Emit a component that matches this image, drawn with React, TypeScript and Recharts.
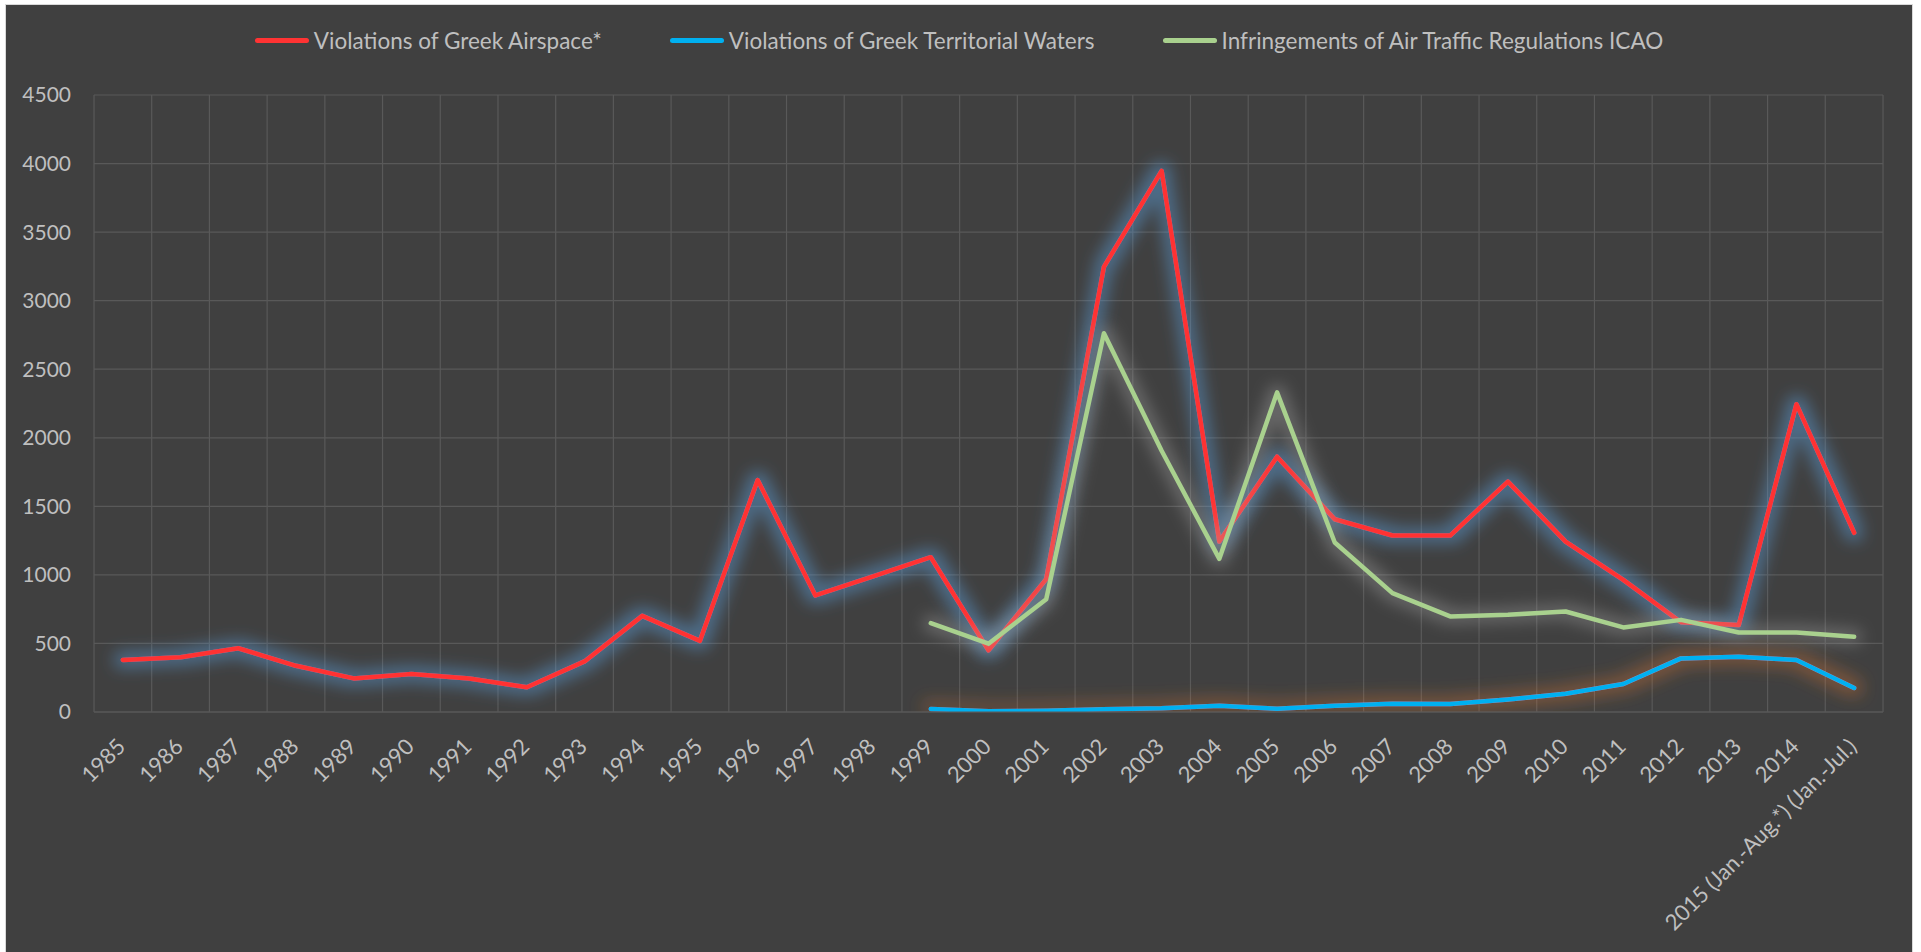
import React from "react";
import {
  CartesianGrid,
  Legend,
  Line,
  LineChart,
  XAxis,
  YAxis,
} from "recharts";

// yearly counts, 1985 – 2015 (2015 partial year)
const YEARS = [
  "1985", "1986", "1987", "1988", "1989", "1990", "1991", "1992", "1993", "1994",
  "1995", "1996", "1997", "1998", "1999", "2000", "2001", "2002", "2003", "2004",
  "2005", "2006", "2007", "2008", "2009", "2010", "2011", "2012", "2013", "2014",
  "2015 (Jan.-Aug.*) (Jan.-Jul.)",
];

const AIRSPACE = [
  380, 400, 465, 337, 245, 277, 245, 180, 369, 701,
  519, 1692, 850, 990, 1129, 449, 969, 3247, 3947, 1243,
  1862, 1406, 1287, 1287, 1680, 1243, 964, 655, 634, 2245,
  1307,
];

const WATERS = [
  null, null, null, null, null, null, null, null, null, null,
  null, null, null, null, 22, 5, 10, 20, 27, 46,
  24, 46, 61, 58, 92, 133, 204, 391, 403, 379,
  175,
];

const ICAO = [
  null, null, null, null, null, null, null, null, null, null,
  null, null, null, null, 648, 498, 823, 2762, 1905, 1117,
  2331, 1236, 867, 697, 709, 733, 617, 672, 580, 580,
  548,
];

const Y_TICKS = [0, 500, 1000, 1500, 2000, 2500, 3000, 3500, 4000, 4500];

const SERIES = [
  { key: "airspace", name: "Violations of Greek Airspace*", color: "#ff3333", glow: "glow-red" },
  { key: "waters", name: "Violations of Greek Territorial Waters", color: "#00b0f0", glow: "glow-blue" },
  { key: "icao", name: "Infringements of Air Traffic Regulations ICAO", color: "#a9d18e", glow: "glow-green" },
];

const data = YEARS.map((year, i) => ({
  year,
  airspace: AIRSPACE[i],
  waters: WATERS[i],
  icao: ICAO[i],
}));

const FONT = "Lato, 'Open Sans', sans-serif";
const TEXT = "#bfbfbf";
const GRID = "#595959";

const CHART_W = 1906;
const CHART_H = 947;
const PLOT_BOTTOM = 707;

// rotated year label, its end sits just right of the category centre
function YearTick({ x, y, payload }: any) {
  return (
    <g transform={`translate(${x + 4},${y + 36})`}>
      <text
        textAnchor="end"
        transform="rotate(-45)"
        fill={TEXT}
        fontSize={22}
        fontFamily={FONT}
      >
        {payload.value}
      </text>
    </g>
  );
}

// legend drawn in series order, not the library's sorted order
function LegendRow() {
  return (
    <div
      style={{
        display: "flex",
        justifyContent: "center",
        alignItems: "center",
        height: 30,
        gap: 68,
        fontFamily: FONT,
        fontSize: 22.5,
        color: TEXT,
      }}
    >
      {SERIES.map((s) => (
        <div key={s.key} style={{ display: "flex", alignItems: "center" }}>
          <span
            style={{
              display: "inline-block",
              width: 54,
              height: 5,
              borderRadius: 3,
              background: s.color,
              marginRight: 5,
            }}
          />
          <span>{s.name}</span>
        </div>
      ))}
    </div>
  );
}

function GlowFilter({ id, color, opacity, radius, blur, clip }: any) {
  const region = clip
    ? { filterUnits: "userSpaceOnUse", x: 0, y: 0, width: CHART_W, height: PLOT_BOTTOM }
    : { x: "-10%", y: "-20%", width: "120%", height: "140%" };
  return (
    <filter id={id} {...region}>
      <feMorphology in="SourceAlpha" operator="dilate" radius={radius} result="d" />
      <feGaussianBlur in="d" stdDeviation={blur} result="b" />
      <feFlood floodColor={color} floodOpacity={opacity} />
      <feComposite in2="b" operator="in" result="g" />
      <feMerge>
        <feMergeNode in="g" />
        <feMergeNode in="SourceGraphic" />
      </feMerge>
    </filter>
  );
}

export default function App() {
  return (
    <div
      style={{
        position: "fixed",
        left: 5,
        top: 4,
        width: 1908,
        height: 960,
        boxSizing: "border-box",
        border: "1px solid #d9d9d9",
        background: "#404040",
        overflow: "hidden",
      }}
    >
      <style>{`
        .glow-red { filter: url(#glow-red); }
        .glow-blue { filter: url(#glow-blue); }
        .glow-green { filter: url(#glow-green); }
      `}</style>
      <svg width={0} height={0} style={{ position: "absolute" }}>
        <defs>
          <GlowFilter id="glow-red" color="#5b9bd5" opacity={0.48} radius={6} blur={7.5} />
          <GlowFilter id="glow-blue" color="#ed7d31" opacity={0.32} radius={6} blur={8} clip />
          <GlowFilter id="glow-green" color="#b4b4b4" opacity={0.34} radius={5} blur={7.5} />
        </defs>
      </svg>
      <LineChart
        width={CHART_W}
        height={CHART_H}
        data={data}
        margin={{ top: 60, right: 29, bottom: 0, left: 28 }}
      >
        <CartesianGrid
          stroke={GRID}
          strokeWidth={1.2}
          verticalCoordinatesGenerator={({ offset }: any) =>
            Array.from(
              { length: YEARS.length + 1 },
              (_, i) => offset.left + (i * offset.width) / YEARS.length
            )
          }
        />
        <XAxis
          dataKey="year"
          scale="band"
          interval={0}
          height={240}
          tick={<YearTick />}
          tickSize={0}
          tickMargin={0}
          tickLine={false}
          axisLine={{ stroke: GRID, strokeWidth: 1.2 }}
        />
        <YAxis
          width={60}
          domain={[0, 4500]}
          ticks={Y_TICKS}
          interval={0}
          tickSize={6}
          tickMargin={17}
          tickLine={false}
          axisLine={false}
          tick={{ fill: TEXT, fontSize: 21, fontFamily: FONT }}
        />
        <Legend
          verticalAlign="top"
          content={<LegendRow />}
          wrapperStyle={{ top: 20, left: 0, width: CHART_W }}
        />
        {SERIES.map((s) => (
          <Line
            key={s.key}
            className={s.glow}
            name={s.name}
            dataKey={s.key}
            stroke={s.color}
            strokeWidth={4.5}
            strokeLinecap="round"
            strokeLinejoin="round"
            dot={false}
            activeDot={false}
            isAnimationActive={false}
          />
        ))}
      </LineChart>
    </div>
  );
}
